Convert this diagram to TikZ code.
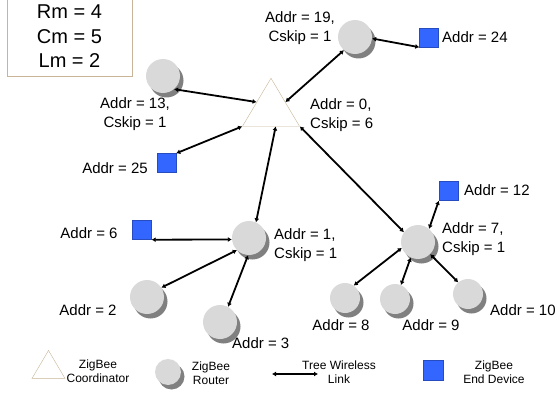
\documentclass[tikz,border=0pt]{standalone}
\usepackage{fontspec}
\setmainfont{Liberation Sans}
\usetikzlibrary{shapes.geometric,shadows,arrows.meta}
\definecolor{rtrgray}{HTML}{D9D9D9}
\definecolor{shdgray}{HTML}{808080}
\definecolor{endblue}{HTML}{3366FF}
\definecolor{tanline}{HTML}{C8B496}
\tikzset{
    router/.style={circle, fill=rtrgray, minimum size=34pt, inner sep=0pt,
        drop shadow={shadow xshift=3.5pt, shadow yshift=-4.5pt, fill=shdgray, opacity=1}},
    enddev/.style={rectangle, fill=endblue, draw=endblue!75!black, line width=0.4pt, minimum size=19pt, inner sep=0pt},
    zbcoord/.style={isosceles triangle, isosceles triangle stretches, shape border rotate=90,
        draw=tanline, fill=white, inner sep=0pt, minimum width=57pt, minimum height=48pt},
    link/.style={{Latex[length=4pt,width=5pt]}-{Latex[length=4pt,width=5pt]}, line width=1.8pt},
    lbl/.style={font=\fontsize{15}{19}\selectfont, inner sep=0pt},
    lgd/.style={font=\fontsize{12}{14.5}\selectfont, align=center, inner sep=0pt}
}
\begin{document}
\begin{tikzpicture}[x=1pt, y=-1pt]
        \useasboundingbox ( 0, 0 ) rectangle ( 560, 396 );

        % параметры
        \node[draw=tanline, minimum width=125pt, minimum height=79pt, align=center,
            font=\fontsize{20}{24.5}\selectfont] (params) at ( 69.5, 36.5 ) {Rm = 4\\Cm = 5\\Lm = 2};

        % координатор
        \node[zbcoord] (zc) at ( 271, 110 ) {};
        \node[lbl, align=left, anchor=west] (l0) at ( 310, 115.5 ) {Addr = 0,\\Cskip = 6};

        % 13, 25
        \node[router] (r13) at ( 163, 76 ) {};
        \node[lbl, align=center] (l13) at ( 135, 114 ) {Addr = 13,\\Cskip = 1};
        \node[enddev] (d25) at ( 166.5, 163 ) {};
        \node[lbl] (l25) at ( 115, 168 ) {Addr = 25};
        \draw[link] (r13.-50) -- (zc.left side);
        \draw[link] (d25.north east) -- (zc.left corner);

        % 19, 24
        \node[router] (r19) at ( 355, 37 ) {};
        \node[lbl, align=center] (l19) at ( 300, 28 ) {Addr = 19,\\Cskip = 1};
        \node[enddev] (d24) at ( 429, 37.5 ) {};
        \node[lbl, anchor=west] (l24) at ( 442, 37 ) {Addr = 24};
        \draw[link] (r19.-130) -- (zc.right side);
        \draw[link] (r19.-5) -- (d24.south west);

        % 1
        \node[router] (r1) at ( 249, 238 ) {};
        \node[lbl, align=left, anchor=west] (l1) at ( 274, 245 ) {Addr = 1,\\Cskip = 1};
        \draw[link] (zc.-74) -- (r1.66);

        % 6, 2, 3
        \node[enddev] (d6) at ( 142, 230 ) {};
        \node[lbl] (l6) at ( 89, 233 ) {Addr = 6};
        \node[router] (r2) at ( 147, 297 ) {};
        \node[lbl] (l2) at ( 88, 310 ) {Addr = 2};
        \node[router] (r3) at ( 220, 322 ) {};
        \node[lbl, anchor=west] (l3) at ( 232, 343 ) {Addr = 3};
        \draw[link] (d6.south east) -- (r1.185);
        \draw[link] (r1.225) -- (r2.33);
        \draw[link] (r1.-93) -- (r3.62);

        % 7
        \node[router] (r7) at ( 418, 242 ) {};
        \node[lbl, align=left, anchor=west] (l7) at ( 442, 239 ) {Addr = 7,\\Cskip = 1};
        \draw[link] (zc.right corner) -- (r7.145);

        % 12, 8, 9, 10
        \node[enddev] (d12) at ( 448.5, 191 ) {};
        \node[lbl, anchor=west] (l12) at ( 464, 190 ) {Addr = 12};
        \node[router, minimum size=30pt] (r8) at ( 345, 298 ) {};
        \node[lbl] (l8) at ( 341, 325 ) {Addr = 8};
        \node[router, minimum size=30pt] (r9) at ( 395, 299 ) {};
        \node[lbl] (l9) at ( 431, 325 ) {Addr = 9};
        \node[router, minimum size=30pt] (r10) at ( 468, 294 ) {};
        \node[lbl, anchor=west] (l10) at ( 490, 310 ) {Addr = 10};
        \draw[link] (r7.50) -- (d12.south west);
        \draw[link] (r7.200) -- (r8.55);
        \draw[link] (r7.-115) -- (r9.67);
        \draw[link] (r7.-45) -- (r10.130);

        % легенда
        \node[zbcoord, minimum width=33pt, minimum height=28pt] (lgc) at ( 48.5, 369 ) {};
        \node[lgd] (lgct) at ( 98, 371 ) {ZigBee\\Coordinator};
        \node[router, minimum size=26pt] (lgr) at ( 168, 372 ) {};
        \node[lgd] (lgrt) at ( 211, 373 ) {ZigBee\\Router};
        \coordinate (lka) at ( 272, 374 );
        \coordinate (lkb) at ( 318, 374 );
        \draw[link] (lka) -- (lkb);
        \node[lgd] (lgkt) at ( 339, 372 ) {Tree Wireless\\Link};
        \node[enddev, minimum size=20pt] (lgd) at ( 433, 370.5 ) {};
        \node[lgd] (lgdt) at ( 494, 372 ) {ZigBee\\End Device};
    \end{tikzpicture}
\end{document}
